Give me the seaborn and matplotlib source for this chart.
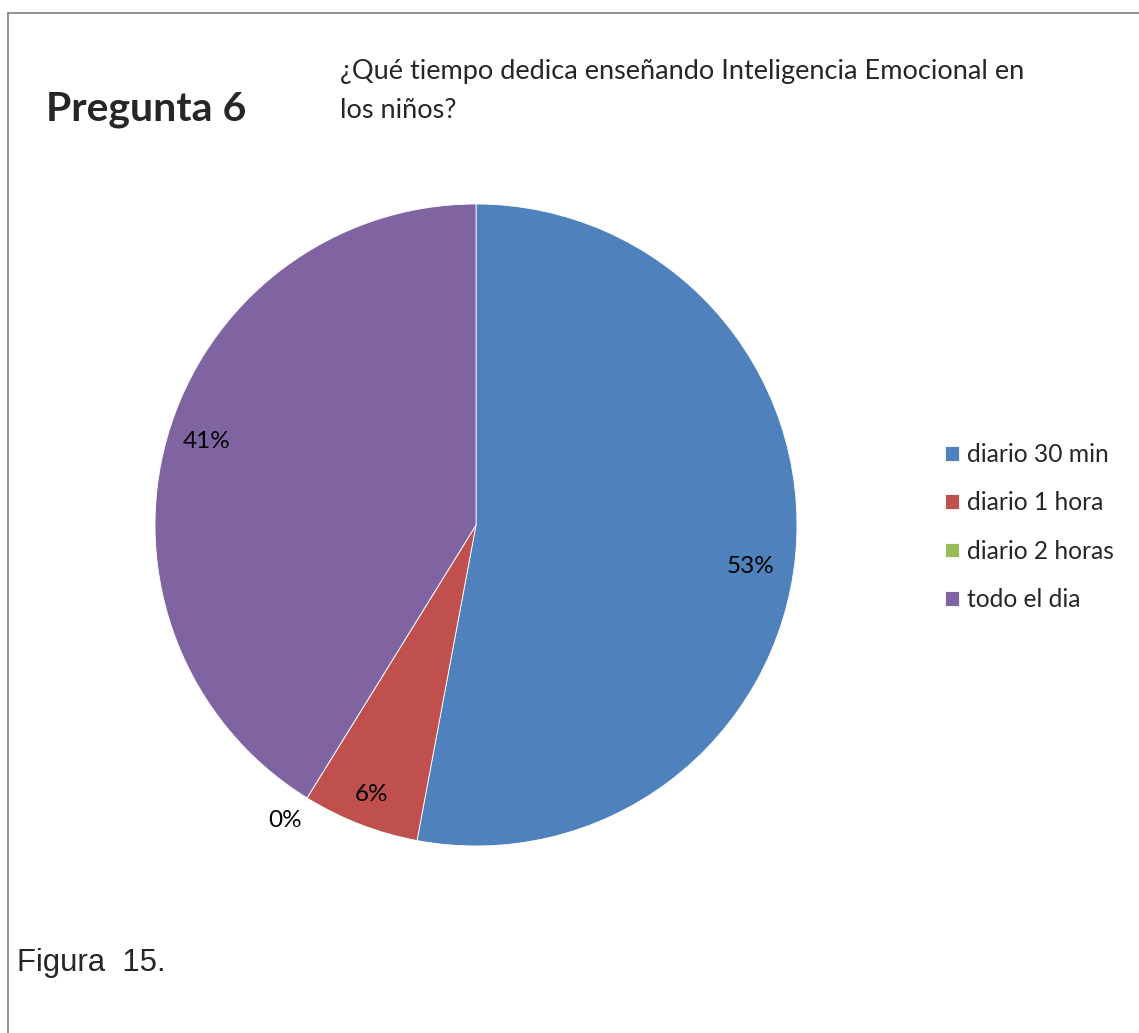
import matplotlib
matplotlib.use("Agg")
import matplotlib.pyplot as plt
import seaborn as sns
import numpy as np
from matplotlib.lines import Line2D

categories = ["diario 30 min", "diario 1 hora", "diario 2 horas", "todo el dia"]
counts = [9, 1, 0, 7]
colors = ["#4F81BD", "#C0504D", "#9BBB59", "#8064A2"]
label_dist = [0.865, 0.90, 1.095, 0.88]
label_ang_shift = [-3.3, 0.0, -1.1, -1.4]

sns.set_theme(style="white")
plt.rcParams['font.family'] = ['Lato', 'DejaVu Sans']

W, H = 1139, 1033
fig = plt.figure(figsize=(W / 100, H / 100), dpi=100)
fig.patch.set_facecolor("white")

cx, cy, r = 476, 525, 321
ax = fig.add_axes([(cx - r) / W, (H - cy - r) / H, 2 * r / W, 2 * r / H])
wedges, _texts, autotexts = ax.pie(
    counts, colors=colors, startangle=90, counterclock=False,
    autopct=lambda p: f"{p:.0f}%", pctdistance=0.87,
    wedgeprops=dict(edgecolor="white", linewidth=0.6),
    textprops=dict(fontsize=17.5, color="black"))
ax.set_xlim(-1, 1)
ax.set_ylim(-1, 1)
ax.set_aspect("auto")

total = sum(counts)
start = 0.0
for i, t in enumerate(autotexts):
    frac = counts[i] / total
    mid = start + frac / 2
    ang = np.deg2rad(90 - 360 * mid + label_ang_shift[i])
    t.set_position((label_dist[i] * np.cos(ang), label_dist[i] * np.sin(ang)))
    start += frac

fig.legend(wedges, categories, loc="upper left",
           bbox_to_anchor=(945 / W, 1 - 443 / H), frameon=False,
           fontsize=17.7, handlelength=0.55, handleheight=0.55,
           handletextpad=0.33, labelspacing=1.03, borderpad=0, borderaxespad=0)

fig.text(46 / W, 1 - 110 / H, "Pregunta 6", fontsize=29.5, fontweight="bold",
         va="center", ha="left")
fig.text(340 / W, 1 - 91 / H,
         "¿Qué tiempo dedica enseñando Inteligencia Emocional en\nlos niños?",
         fontsize=19.5, va="center", ha="left", linespacing=1.7)
fig.text(17 / W, 1 - 963 / H, "Figura  15.", fontsize=22.4,
         family="Liberation Sans", va="center", ha="left")

fig.add_artist(Line2D([8 / W, 1.0], [1 - 13 / H, 1 - 13 / H],
                      transform=fig.transFigure, color="#7f7f7f", lw=1.2))
fig.add_artist(Line2D([8 / W, 8 / W], [1 - 13 / H, 0.0],
                      transform=fig.transFigure, color="#7f7f7f", lw=1.2))

fig.savefig("out.png", dpi=100)
